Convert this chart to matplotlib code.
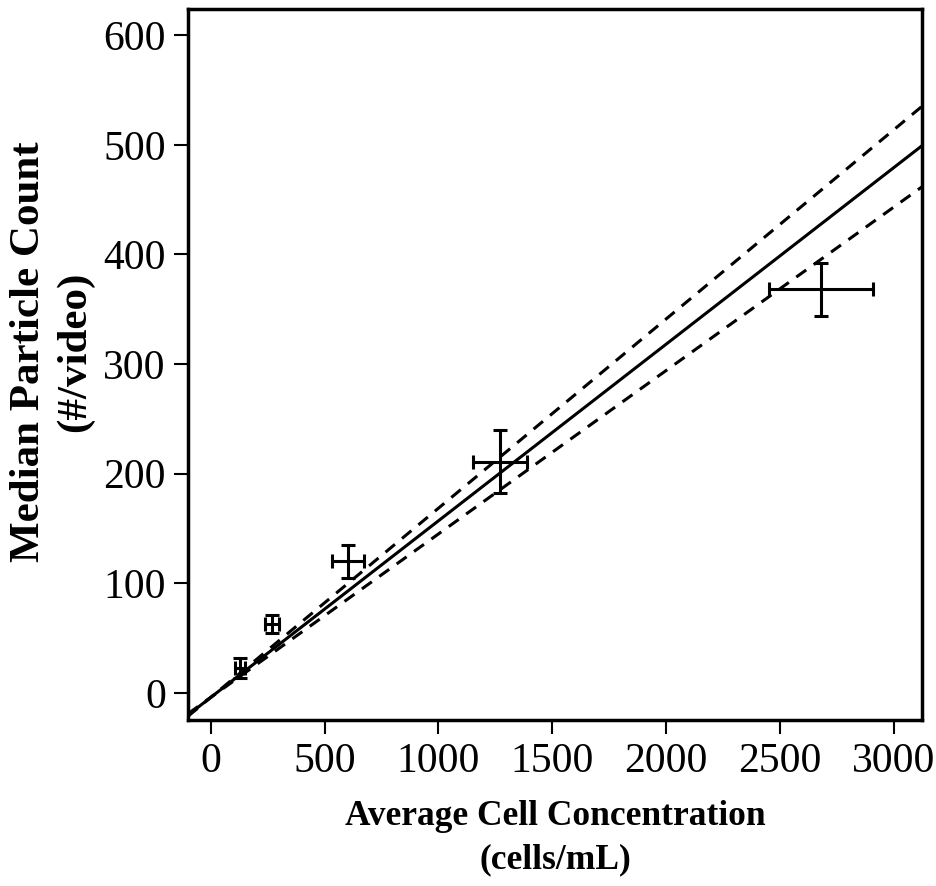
import matplotlib
matplotlib.use("Agg")
import matplotlib.pyplot as plt
import numpy as np

plt.rcParams['font.family'] = ['Liberation Serif', 'DejaVu Serif']

# Data
conc = [127, 268, 602, 1271, 2682]
conc_err = [22, 30, 70, 120, 230]
count = [23, 63, 120, 211, 368]
count_err = [9, 8, 15, 29, 24]

fit_slope, fit_intercept = 0.1610, -4.0
upper_slope, upper_intercept = 0.1725, -4.0
lower_slope, lower_intercept = 0.1490, -4.0

xlim = (-100, 3125)
ylim = (-25, 624)

fig = plt.figure(figsize=(9.36, 8.86), dpi=100)
ax = fig.add_axes([0.201, 0.187, 0.784, 0.803])

xx = np.array(xlim)
ax.plot(xx, fit_slope * xx + fit_intercept, color='black', lw=2.2)
ax.plot(xx, upper_slope * xx + upper_intercept, color='black', lw=2.2, ls=(0, (4, 3)))
ax.plot(xx, lower_slope * xx + lower_intercept, color='black', lw=2.2, ls=(0, (4, 3)))

ax.errorbar(conc, count, xerr=conc_err, yerr=count_err, fmt='none',
            ecolor='black', elinewidth=2.2, capsize=5, capthick=2.2)

ax.set_xlim(*xlim)
ax.set_ylim(*ylim)
ax.set_xticks([0, 500, 1000, 1500, 2000, 2500, 3000])
ax.set_yticks([0, 100, 200, 300, 400, 500, 600])
ax.tick_params(axis='both', labelsize=30, length=10, width=1.5, direction='out', pad=6)
for s in ax.spines.values():
    s.set_linewidth(2.5)

ax.set_xlabel('Average Cell Concentration\n(cells/mL)', fontsize=25.5, fontweight='bold', labelpad=14, linespacing=1.4)
ax.set_ylabel('Median Particle Count\n(#/video)', fontsize=31, fontweight='bold', linespacing=1.25)
ax.yaxis.set_label_coords(-0.128, 0.518)

fig.savefig('out.png', dpi=100)
